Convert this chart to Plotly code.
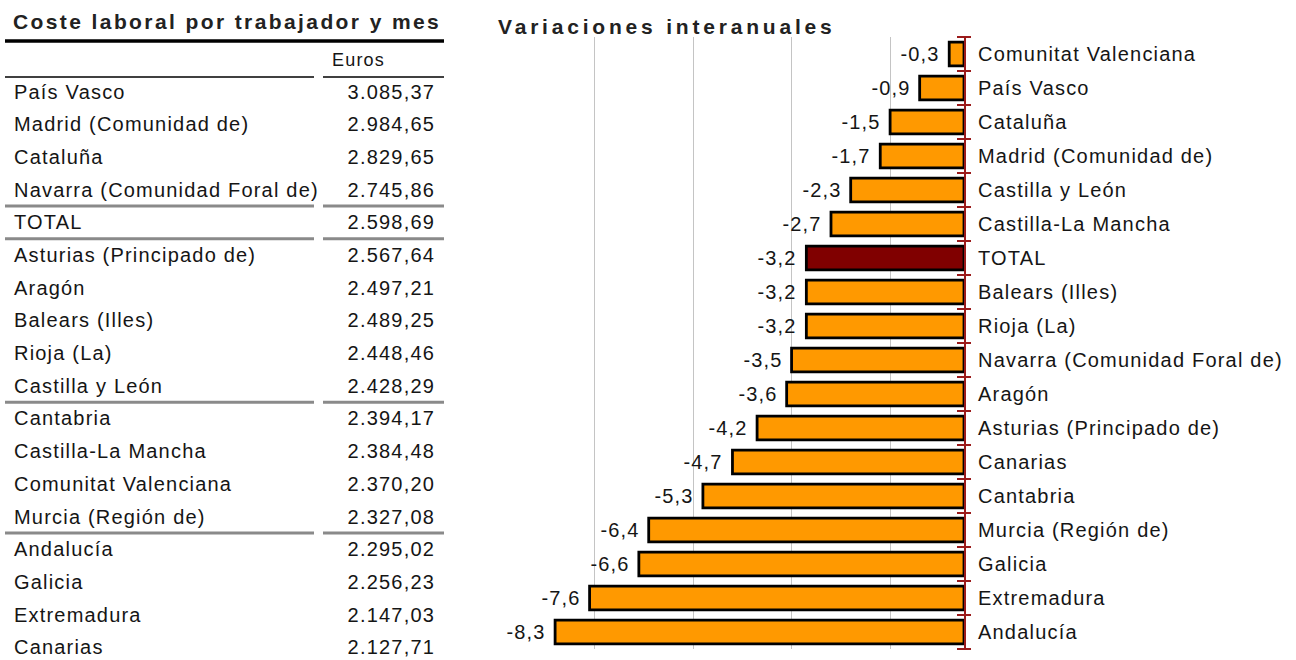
import plotly.graph_objects as go

# ---------------- data ----------------
table_title = "Coste laboral por trabajador y mes"
table_header = "Euros"
table_regions = ["País Vasco", "Madrid (Comunidad de)", "Cataluña", "Navarra (Comunidad Foral de)",
                 "TOTAL", "Asturias (Principado de)", "Aragón", "Balears (Illes)", "Rioja (La)",
                 "Castilla y León", "Cantabria", "Castilla-La Mancha", "Comunitat Valenciana",
                 "Murcia (Región de)", "Andalucía", "Galicia", "Extremadura", "Canarias"]
table_euros = [3085.37, 2984.65, 2829.65, 2745.86, 2598.69, 2567.64, 2497.21, 2489.25, 2448.46,
               2428.29, 2394.17, 2384.48, 2370.20, 2327.08, 2295.02, 2256.23, 2147.03, 2127.71]
separator_after = [3, 4, 9, 13]

chart_title = "Variaciones interanuales"
bar_regions = ["Comunitat Valenciana", "País Vasco", "Cataluña", "Madrid (Comunidad de)",
               "Castilla y León", "Castilla-La Mancha", "TOTAL", "Balears (Illes)", "Rioja (La)",
               "Navarra (Comunidad Foral de)", "Aragón", "Asturias (Principado de)", "Canarias",
               "Cantabria", "Murcia (Región de)", "Galicia", "Extremadura", "Andalucía"]
bar_values = [-0.3, -0.9, -1.5, -1.7, -2.3, -2.7, -3.2, -3.2, -3.2, -3.5, -3.6, -4.2, -4.7,
              -5.3, -6.4, -6.6, -7.6, -8.3]

# ---------------- style ----------------
W, H = 1296, 660
FONT = "Liberation Sans, Arial, sans-serif"
TXT = "#151515"
ORANGE = "#FF9900"
DARKRED = "#800000"
AXISRED = "#9B1B1B"
FS = 20
PLOT_LEFT, PLOT_RIGHT, PLOT_TOP, PLOT_BOTTOM = 495, 964, 37, 649


def xp(px):
    return px / W


def yp(py):
    return 1 - py / H


def fmt_euro(v):
    return f"{v:,.2f}".replace(",", "X").replace(".", ",").replace("X", ".")


def fmt_dec(v):
    return f"{v:.1f}".replace(".", ",")


fig = go.Figure()

colors = [DARKRED if r == "TOTAL" else ORANGE for r in bar_regions]
fig.add_trace(go.Bar(
    x=bar_values, y=bar_regions, orientation="h",
    marker=dict(color=colors, line=dict(color="#000000", width=2.8)),
    hoverinfo="x+y",
))

annotations = []
shapes = []

# value labels for bars
for r, v in zip(bar_regions, bar_values):
    annotations.append(dict(x=v, y=r, xref="x", yref="y", text=fmt_dec(v), showarrow=False,
                            xanchor="right", yanchor="middle", xshift=-9,
                            font=dict(family=FONT, size=FS, color=TXT)))

# cross tick marks on the red category axis, at category boundaries
n_cat = len(bar_regions)
slot = (PLOT_BOTTOM - PLOT_TOP) / n_cat
for i in range(n_cat + 1):
    yb = PLOT_TOP + i * slot
    shapes.append(dict(type="line", xref="paper", yref="paper",
                       x0=xp(PLOT_RIGHT - 7), x1=xp(PLOT_RIGHT + 7), y0=yp(yb), y1=yp(yb),
                       line=dict(color=AXISRED, width=2)))

# chart title
annotations.append(dict(x=xp(496), y=yp(26), xref="paper", yref="paper", text=f"<b>{chart_title}</b>",
                        showarrow=False, xanchor="left", yanchor="middle",
                        font=dict(family=FONT, size=21, color="#222222")))

# ---------------- table ----------------
annotations.append(dict(x=xp(11), y=yp(22), xref="paper", yref="paper", text=f"<b>{table_title}</b>",
                        showarrow=False, xanchor="left", yanchor="middle",
                        font=dict(family=FONT, size=21, color="#222222")))
annotations.append(dict(x=xp(330), y=yp(60), xref="paper", yref="paper", text=table_header,
                        showarrow=False, xanchor="left", yanchor="middle",
                        font=dict(family=FONT, size=18, color=TXT)))

row0, row_step = 91.5, 32.7
row_y = [row0 + i * row_step for i in range(len(table_regions))]
for i, (name, val) in enumerate(zip(table_regions, table_euros)):
    annotations.append(dict(x=xp(12), y=yp(row_y[i]), xref="paper", yref="paper", text=name,
                            showarrow=False, xanchor="left", yanchor="middle",
                            font=dict(family=FONT, size=FS, color=TXT)))
    annotations.append(dict(x=xp(436), y=yp(row_y[i]), xref="paper", yref="paper", text=fmt_euro(val),
                            showarrow=False, xanchor="right", yanchor="middle",
                            font=dict(family=FONT, size=FS, color=TXT)))

# thick line under title
shapes.append(dict(type="line", xref="paper", yref="paper", x0=xp(5), x1=xp(444), y0=yp(41), y1=yp(41),
                   line=dict(color="#000000", width=3.5)))
# thin lines under header (two column segments)
for a, b in [(5, 314), (323, 444)]:
    shapes.append(dict(type="line", xref="paper", yref="paper", x0=xp(a), x1=xp(b), y0=yp(77), y1=yp(77),
                       line=dict(color="#000000", width=1.5)))
# gray group separators
for k in separator_after:
    ys = (row_y[k] + row_y[k + 1]) / 2
    for a, b in [(5, 314), (323, 444)]:
        shapes.append(dict(type="line", xref="paper", yref="paper", x0=xp(a), x1=xp(b), y0=yp(ys), y1=yp(ys),
                           line=dict(color="#8a8a8a", width=3)))

fig.update_layout(
    width=W, height=H,
    margin=dict(l=0, r=0, t=0, b=0),
    paper_bgcolor="white", plot_bgcolor="white",
    showlegend=False,
    bargap=0.3,
    font=dict(family=FONT, size=FS, color=TXT),
    xaxis=dict(domain=[xp(PLOT_LEFT), xp(PLOT_RIGHT)], range=[-9.52, 0], tick0=-9.5, dtick=2,
               showgrid=True, gridcolor="#c4c4c4", gridwidth=1, zeroline=False,
               showticklabels=False, ticks="", showline=False, fixedrange=True),
    yaxis=dict(domain=[yp(PLOT_BOTTOM), yp(PLOT_TOP)], side="right", autorange="reversed",
               type="category", showline=True, linecolor=AXISRED, linewidth=2,
               ticks="", ticklabelstandoff=8, showgrid=False,
               tickfont=dict(family=FONT, size=FS, color=TXT), fixedrange=True),
    annotations=annotations,
    shapes=shapes,
)

post_script = """
document.body.style.margin = '0';
var gd = document.getElementById('{plot_id}');
var anns = gd._fullLayout.annotations;
gd.querySelectorAll('g.annotation').forEach(function(g){
  var idx = +g.getAttribute('data-index');
  var a = anns[idx];
  var t = g.querySelector('text.annotation-text');
  if (!t || !a) return;
  var bb = t.getBBox();
  var s = t.getAttribute('data-unformatted') || '';
  var ls = 1.2;
  if (s.indexOf('Variaciones') >= 0) ls = 3.8;
  else if (s.indexOf('Coste laboral') >= 0) ls = 2.4;
  t.style.letterSpacing = ls + 'px';
  if (a.xanchor === 'left') { t.setAttribute('text-anchor', 'start'); t.setAttribute('x', bb.x); }
  else if (a.xanchor === 'right') { t.setAttribute('text-anchor', 'end'); t.setAttribute('x', bb.x + bb.width + ls); }
});
gd.querySelectorAll('g.ytick text').forEach(function(t){ t.style.letterSpacing = '1.2px'; });
"""

fig.write_html("out.html", post_script=post_script, config={"displayModeBar": False, "staticPlot": False})
